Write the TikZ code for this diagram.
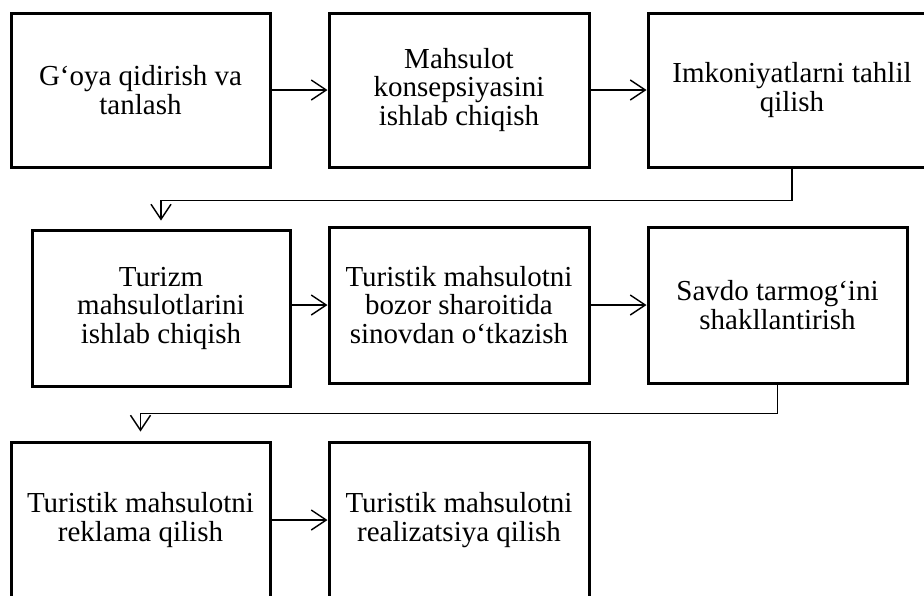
\documentclass[tikz,border=0pt]{standalone}
\usepackage{fontspec}
\setmainfont{Liberation Serif}
\usetikzlibrary{arrows.meta}

\begin{document}
\begin{tikzpicture}[x=1pt,y=-1pt,line cap=butt,line join=miter,
  box/.style={draw,line width=3pt,align=center,inner sep=0pt,
    font=\fontsize{29}{28.5}\selectfont},
  arr/.style={line width=1.4pt,-{Straight Barb[length=15pt,width=20pt,line width=1.4pt]}}]
  \useasboundingbox (0,0) rectangle (924,595);
  \clip (0,0) rectangle (924,595);
  % first row
  \node[box,minimum width=259pt,minimum height=154pt] (b1) at (140.5,90) {G‘oya qidirish va\\tanlash};
  \node[box,minimum width=260pt,minimum height=154pt] (b2) at (459,90) {Mahsulot\\konsepsiyasini\\ishlab chiqish};
  \node[box,minimum width=288pt,minimum height=154pt] (b3) at (792,90) {Imkoniyatlarni tahlil\\qilish};
  % second row
  \node[box,minimum width=258pt,minimum height=156pt] (b4) at (161,308) {Turizm\\mahsulotlarini\\ishlab chiqish};
  \node[box,minimum width=260pt,minimum height=156pt] (b5) at (459,305) {Turistik mahsulotni\\bozor sharoitida\\sinovdan o‘tkazish};
  \node[box,minimum width=259pt,minimum height=156pt] (b6) at (777.5,305) {Savdo tarmog‘ini\\shakllantirish};
  % third row
  \node[box,minimum width=259pt,minimum height=156pt] (b7) at (140.5,520) {Turistik mahsulotni\\reklama qilish};
  \node[box,minimum width=260pt,minimum height=156pt] (b8) at (459,520) {Turistik mahsulotni\\realizatsiya qilish};

  \draw[arr] (b1.east) -- (b2.west);
  \draw[arr] (b2.east) -- (b3.west);
  \draw[arr] (b3.south) -- ++(0,32) -| ([yshift=8pt]b4.north);
  \draw[arr] (b4.east |- b5.west) -- (b5.west);
  \draw[arr] (b5.east) -- (b6.west);
  \draw[arr] (b6.south) -- ++(0,29) -| ([yshift=9pt]b7.north);
  \draw[arr] (b7.east) -- (b8.west);
\end{tikzpicture}
\end{document}
